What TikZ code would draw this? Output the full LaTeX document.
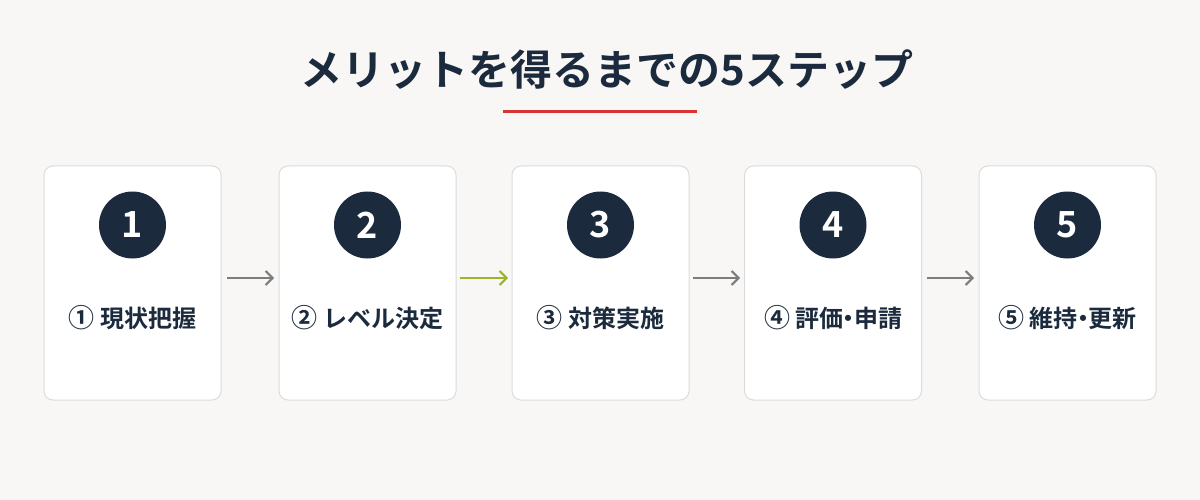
\documentclass[tikz,border=0pt]{standalone}
\usepackage{fontspec}
\setmainfont{Noto Sans CJK JP}[BoldFont={Noto Sans CJK JP Bold}]
\newfontfamily\jpbold{Noto Sans CJK JP Bold}
\usetikzlibrary{arrows.meta}
\definecolor{bgc}{HTML}{F8F7F5}
\definecolor{navy}{HTML}{1B2B3D}
\definecolor{boxline}{HTML}{DCDCDC}
\definecolor{arrgray}{HTML}{7C7C7C}
\definecolor{arrgreen}{HTML}{9BB52A}
\definecolor{redline}{HTML}{D93430}
\newcommand{\mdot}{\hspace{-0.28em}・\hspace{-0.28em}}
\newcommand{\cnum}[1]{{\fontsize{26}{26}\selectfont #1}}
\tikzset{
  card/.style={draw=boxline, line width=1pt, fill=white, rounded corners=9pt, minimum width=177pt, minimum height=234pt, inner sep=0pt},
  numdot/.style={circle, fill=navy, minimum size=67pt, inner sep=0pt, text=white, font=\jpbold\fontsize{36}{36}\selectfont},
  steplabel/.style={text=navy, font=\jpbold\fontsize{24}{24}\selectfont, inner sep=0pt},
  flow/.style={-{Straight Barb[length=7pt,width=14pt]}, line width=2pt, arrgray},
}
\begin{document}
\begin{tikzpicture}[x=1pt,y=-1pt]
\fill[bgc] (0,0) rectangle (1200,500);
\useasboundingbox (0,0) rectangle (1200,500);
\node[text=navy, font=\jpbold\fontsize{42}{42}\selectfont, inner sep=0pt] (title) at (607,70) {メリットを得るまでの5ステップ};
\draw[redline, line width=3pt] (503,112) -- (697,112);
\foreach \i/\x/\t in {1/132.5/{\cnum{①} 現状把握},2/367.5/{\cnum{②} レベル決定},3/600.5/{\cnum{③} 対策実施},4/833/{\cnum{④} 評価\mdot 申請},5/1067.5/{\cnum{⑤} 維持\mdot 更新}}{
  \node[card] (c\i) at (\x,283) {};
  \node[numdot] (n\i) at (\x,225) {\i};
  \node[steplabel] (l\i) at (\x,318) {\t};
}
\coordinate (a1s) at (227,278); \coordinate (a1e) at (274,278);
\coordinate (a2s) at (460,278); \coordinate (a2e) at (508,278);
\coordinate (a3s) at (693,278); \coordinate (a3e) at (740,278);
\coordinate (a4s) at (927,278); \coordinate (a4e) at (974,278);
\draw[flow] (a1s) -- (a1e);
\draw[flow, arrgreen] (a2s) -- (a2e);
\draw[flow] (a3s) -- (a3e);
\draw[flow] (a4s) -- (a4e);
\end{tikzpicture}
\end{document}
